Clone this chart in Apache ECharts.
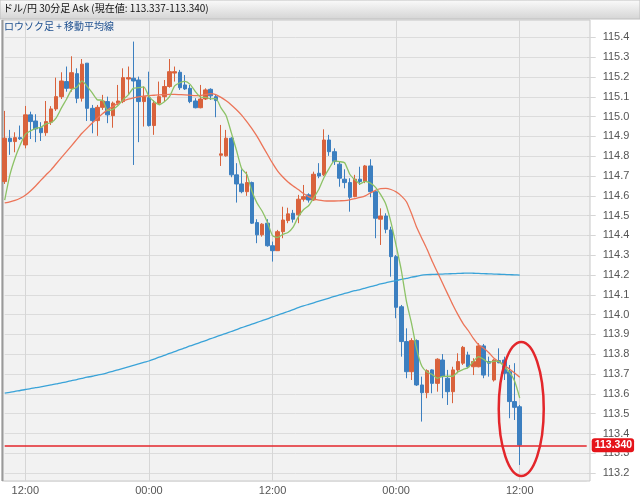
<!DOCTYPE html>
<html><head><meta charset="utf-8">
<script src="https://cdn.jsdelivr.net/npm/echarts@6/dist/echarts.min.js"></script>
<style>html,body{margin:0;padding:0;background:#fff;}#c{width:640px;height:498px;}</style>
</head><body><div id="c"></div>
<script>
const categories = [
"10:00","10:30","11:00","11:30","12:00","12:30","13:00","13:30","14:00","14:30","15:00","15:30","16:00","16:30",
"17:00","17:30","18:00","18:30","19:00","19:30","20:00","20:30","21:00","21:30","22:00","22:30","23:00","23:30",
"00:00","00:30","01:00","01:30","02:00","02:30","03:00","03:30","04:00","04:30","05:00","05:30","06:00","06:30",
"07:00","07:30","08:00","08:30","09:00","09:30","10:00","10:30","11:00","11:30","12:00","12:30","13:00","13:30",
"14:00","14:30","15:00","15:30","16:00","16:30","17:00","17:30","18:00","18:30","19:00","19:30","20:00","20:30",
"21:00","21:30","22:00","22:30","23:00","23:30",
"00:00","00:30","01:00","01:30","02:00","02:30","03:00","03:30","04:00","04:30","05:00","05:30","06:00","06:30",
"07:00","07:30","08:00","08:30","09:00","09:30","10:00","10:30","11:00","11:30","12:00","12:30","13:00","13:30",
"14:00","14:30","15:00","15:30","16:00","16:30","17:00","17:30","18:00","18:30"];

const opens = [114.672,114.891,114.874,114.894,114.857,115.009,114.978,114.944,114.919,114.972,
115.039,115.101,115.177,115.143,115.217,115.093,115.270,115.042,114.980,115.047,
115.076,115.005,115.068,115.076,115.190,115.194,115.185,115.076,115.096,114.955,
115.068,115.101,115.152,115.220,115.224,115.160,115.143,115.079,115.045,115.089,
115.138,115.101,114.805,114.802,114.891,114.706,114.660,114.621,114.667,114.465,
114.403,114.462,114.348,114.323,114.419,114.475,114.512,114.504,114.583,114.605,
114.579,114.714,114.706,114.882,114.823,114.760,114.684,114.667,114.596,114.684,
114.672,114.751,114.621,114.482,114.498,114.428,114.293,114.040,113.864,113.712,
113.869,113.645,113.606,113.721,113.653,113.771,113.679,113.611,113.721,113.755,
113.796,113.737,113.737,113.842,113.763,113.670,113.768,113.771,113.712,113.561,113.535];
const closes = [114.891,114.874,114.894,114.888,115.009,114.975,114.938,114.919,114.975,115.039,
115.101,115.180,115.143,115.222,115.093,115.265,115.042,114.980,115.047,115.079,
115.009,115.068,115.079,115.197,115.197,115.180,115.076,115.101,114.955,115.068,
115.101,115.152,115.227,115.227,115.146,115.140,115.076,115.045,115.089,115.135,
115.105,115.081,114.812,114.891,114.706,114.660,114.621,114.667,114.462,114.403,
114.457,114.348,114.323,114.419,114.478,114.509,114.482,114.583,114.596,114.579,
114.709,114.700,114.882,114.823,114.773,114.689,114.667,114.593,114.684,114.672,
114.751,114.621,114.487,114.498,114.431,114.293,114.037,113.864,113.712,113.869,
113.645,113.606,113.717,113.653,113.775,113.687,113.611,113.721,113.763,113.835,
113.737,113.763,113.842,113.695,113.755,113.771,113.757,113.704,113.561,113.532,113.342];
const lows = [114.660,114.807,114.820,114.882,114.840,114.887,114.871,114.877,114.903,114.958,
115.029,115.089,115.126,115.126,115.068,115.076,114.978,114.916,114.903,115.034,
114.967,114.944,115.059,115.068,115.110,114.756,114.871,114.950,114.950,114.908,
115.059,115.076,115.146,115.177,115.135,115.135,115.068,115.042,115.042,115.084,
115.084,114.997,114.751,114.798,114.694,114.566,114.613,114.600,114.458,114.361,
114.394,114.343,114.268,114.323,114.386,114.462,114.465,114.462,114.571,114.566,
114.575,114.689,114.700,114.802,114.756,114.646,114.638,114.520,114.593,114.655,
114.664,114.593,114.386,114.352,114.411,114.192,113.982,113.788,113.679,113.670,
113.640,113.460,113.578,113.603,113.611,113.578,113.544,113.553,113.704,113.746,
113.729,113.695,113.734,113.679,113.687,113.662,113.755,113.670,113.477,113.468,113.241];
const highs = [115.029,114.933,114.921,114.955,115.054,115.025,115.012,114.972,115.079,115.053,
115.197,115.224,115.253,115.305,115.244,115.291,115.270,115.059,115.059,115.110,
115.101,115.076,115.160,115.244,115.253,115.379,115.202,115.152,115.227,115.084,
115.177,115.185,115.291,115.253,115.236,115.210,115.160,115.093,115.160,115.143,
115.143,115.110,114.958,114.933,114.896,114.765,114.734,114.722,114.672,114.482,
114.462,114.482,114.369,114.428,114.545,114.540,114.529,114.605,114.655,114.613,
114.722,114.765,114.936,114.908,114.840,114.773,114.734,114.689,114.706,114.747,
114.756,114.785,114.630,114.537,114.512,114.444,114.301,114.049,113.931,113.881,
113.875,113.687,113.724,113.724,113.780,113.801,113.721,113.737,113.805,113.842,
113.813,113.780,113.856,113.852,113.788,113.775,113.830,113.788,113.746,113.755,113.544];

const maShort = [114.579,114.705,114.790,114.857,114.911,114.928,114.941,114.946,114.963,114.969,
114.994,115.043,115.088,115.137,115.148,115.181,115.153,115.120,115.085,115.083,
115.031,115.037,115.056,115.086,115.110,115.144,115.146,115.150,115.102,115.076,
115.060,115.075,115.101,115.155,115.171,115.178,115.163,115.127,115.099,115.097,
115.090,115.091,115.044,115.005,114.919,114.830,114.738,114.709,114.623,114.563,
114.522,114.467,114.399,114.390,114.405,114.415,114.442,114.494,114.530,114.550,
114.590,114.633,114.693,114.739,114.777,114.773,114.767,114.709,114.681,114.661,
114.673,114.664,114.643,114.606,114.558,114.466,114.349,114.225,114.067,113.955,
113.825,113.739,113.710,113.698,113.679,113.688,113.689,113.689,113.711,113.723,
113.733,113.764,113.788,113.774,113.758,113.765,113.764,113.736,113.710,113.665,113.579];
const maMid = [114.564,114.570,114.577,114.588,114.603,114.625,114.650,114.678,114.705,114.731,
114.762,114.793,114.823,114.854,114.885,114.916,114.942,114.968,114.992,115.015,
115.034,115.052,115.067,115.079,115.088,115.095,115.100,115.104,115.106,115.108,
115.110,115.111,115.112,115.112,115.111,115.110,115.108,115.106,115.107,115.112,
115.116,115.111,115.097,115.080,115.059,115.035,115.008,114.975,114.940,114.900,
114.855,114.810,114.765,114.725,114.695,114.670,114.650,114.632,114.612,114.596,
114.585,114.578,114.575,114.574,114.574,114.575,114.576,114.580,114.586,114.592,
114.600,114.615,114.628,114.636,114.638,114.632,114.620,114.600,114.570,114.510,
114.440,114.385,114.330,114.270,114.215,114.160,114.105,114.050,114.000,113.955,
113.920,113.880,113.848,113.830,113.808,113.780,113.762,113.745,113.725,113.705,113.684];
const maLong = [113.604,113.608,113.613,113.617,113.622,113.626,113.631,113.635,113.640,113.645,
113.650,113.656,113.661,113.667,113.672,113.678,113.684,113.689,113.695,113.700,
113.707,113.714,113.721,113.729,113.736,113.744,113.751,113.759,113.766,113.775,
113.785,113.794,113.804,113.813,113.823,113.832,113.842,113.851,113.860,113.869,
113.879,113.888,113.897,113.906,113.915,113.924,113.934,113.943,113.952,113.961,
113.970,113.979,113.989,113.998,114.007,114.016,114.025,114.035,114.044,114.052,
114.060,114.068,114.076,114.084,114.092,114.100,114.107,114.114,114.121,114.127,
114.134,114.141,114.148,114.155,114.161,114.167,114.172,114.178,114.183,114.189,
114.194,114.200,114.202,114.203,114.204,114.205,114.206,114.207,114.208,114.209,
114.210,114.209,114.208,114.207,114.206,114.205,114.204,114.203,114.202,114.201,114.200];

const currentPrice = 113.34;
const titleText = 'ドル/円 30分足 Ask (現在値: 113.337-113.340)';
const panelText = 'ロウソク足 + 移動平均線';

const candles = opens.map((o, i) => [o, closes[i], lows[i], highs[i]]);
const UP = '#d9623c', DOWN = '#3c7fc0';
const NUMFONT = "'Liberation Sans Narrow','Liberation Sans',sans-serif";
const JPFONT = "'Noto Sans CJK JP',sans-serif";
const showTime = (i, v) => v === '12:00' || v === '00:00';

const chart = echarts.init(document.getElementById('c'), null, {renderer: 'canvas'});

function staticGraphics(extra) {
  return [
    {type: 'rect', z: -1, silent: true, shape: {x: 2, y: 20, width: 588, height: 461},
      style: {fill: '#f2f2f2', stroke: '#c8c8c8', lineWidth: 1}},
    {type: 'line', z: 1, silent: true, shape: {x1: 2.5, y1: 20, x2: 2.5, y2: 481},
      style: {stroke: '#9a9a9a', lineWidth: 2}},
    {type: 'rect', z: 1, silent: true, shape: {x: 0, y: 0, width: 640, height: 19},
      style: {fill: new echarts.graphic.LinearGradient(0, 0, 0, 1, [
        {offset: 0, color: '#fbfbfb'}, {offset: 1, color: '#d4d4d4'}]), stroke: '#c0c0c0', lineWidth: 1}},
    {type: 'text', z: 2, silent: true, left: 3, top: 3,
      style: {text: titleText, fill: '#111', font: '10px ' + JPFONT}},
    {type: 'text', z: 2, silent: true, left: 4, top: 21,
      style: {text: panelText, fill: '#1d4f8f', font: '10px ' + JPFONT}}
  ].concat(extra || []);
}

const option = {
  animation: false,
  backgroundColor: '#ffffff',
  grid: {left: 4.7, right: 53.3, top: 20, bottom: 17},
  xAxis: {
    type: 'category', data: categories, boundaryGap: false,
    axisLine: {show: false}, axisTick: {show: false},
    axisLabel: {interval: showTime, color: '#555', fontSize: 11, margin: 4, fontFamily: NUMFONT},
    splitLine: {show: true, interval: showTime, lineStyle: {color: '#d6d6d6', width: 1}}
  },
  yAxis: {
    type: 'value', position: 'right', min: 113.16, max: 115.488,
    minInterval: 0.1, maxInterval: 0.1, splitNumber: 23, scale: true,
    axisLine: {show: false},
    axisTick: {show: true, length: 9, lineStyle: {color: '#d6d6d6'}},
    axisLabel: {showMinLabel: false, showMaxLabel: false, formatter: v => v.toFixed(1),
      color: '#555', fontSize: 11, margin: 16, fontFamily: NUMFONT},
    splitLine: {lineStyle: {color: '#dcdcdc', width: 1}}
  },
  series: [
    {
      type: 'candlestick', data: candles, barWidth: 4, clip: false,
      itemStyle: {color: UP, color0: DOWN, borderColor: UP, borderColor0: DOWN, borderWidth: 1},
      markLine: {
        silent: true, symbol: ['none', 'none'], animation: false,
        lineStyle: {color: '#e3262b', width: 1.5, type: 'solid'},
        label: {position: 'end', distance: 5, formatter: () => currentPrice.toFixed(3),
          color: '#fff', backgroundColor: '#e5141a', padding: [2, 2, 1, 3], borderRadius: 3,
          fontSize: 10.5, fontWeight: 'bold', fontFamily: NUMFONT},
        data: [{yAxis: currentPrice}]
      }
    },
    {type: 'line', data: maLong, symbol: 'none', smooth: 0.2, lineStyle: {color: '#3aa3d8', width: 1.3}},
    {type: 'line', data: maMid, symbol: 'none', smooth: 0.2, lineStyle: {color: '#ec7458', width: 1.3}},
    {type: 'line', data: maShort, symbol: 'none', smooth: 0.2, lineStyle: {color: '#8cc266', width: 1.3}}
  ],
  graphic: {elements: staticGraphics()}
};
chart.setOption(option);

// red highlight ellipse around the final candles (positioned through the axes)
const c = chart.convertToPixel({gridIndex: 0}, [100, 113.524]);
chart.setOption({graphic: {elements: staticGraphics([
  {type: 'ellipse', z: 10, silent: true, shape: {cx: c[0] + 1.5, cy: c[1], rx: 22.5, ry: 67},
    style: {fill: 'none', stroke: '#e3262b', lineWidth: 2.5}}
])}}, {replaceMerge: ['graphic']});
</script></body></html>
